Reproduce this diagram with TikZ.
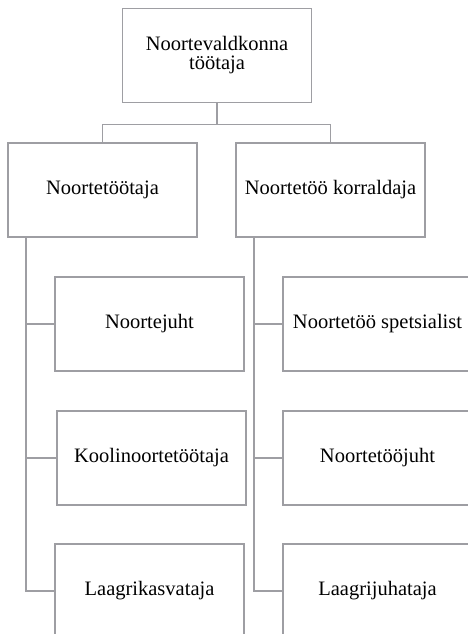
\documentclass[tikz,border=0pt]{standalone}
\usepackage{fontspec}
\setmainfont{Liberation Serif}
\usetikzlibrary{positioning}
\definecolor{boxgray}{RGB}{158,158,163}
\begin{document}
\begin{tikzpicture}[x=1pt,y=1pt,
        role/.style={draw=boxgray, line width=1.9pt, minimum width=189pt, minimum height=94pt,
            align=center, inner sep=0pt, font=\fontsize{20.5}{19}\selectfont},
        link/.style={draw=boxgray, line width=1.9pt}]
    \useasboundingbox (0,0) rectangle (468,-634);
    \clip (0,0) rectangle (468,-634);
    % Top level
    \node[role] (top) at (217,-55.5) {Noortevaldkonna\\töötaja};
    \node[role] (worker) at (102.5,-190) {Noortetöötaja};
    \node[role] (organiser) at (330.5,-190) {Noortetöö korraldaja};
    % Left column
    \node[role] (leader) at (149.5,-324) {Noortejuht};
    \node[role] (school) at (151.5,-458) {Koolinoortetöötaja};
    \node[role] (camp) at (149.5,-591) {Laagrikasvataja};
    % Right column
    \node[role] (expert) at (377.5,-324) {Noortetöö spetsialist};
    \node[role] (manager) at (377.5,-458) {Noortetööjuht};
    \node[role] (campboss) at (377.5,-591) {Laagrijuhataja};
    % Connectors
    \coordinate (bus) at ([yshift=-21pt]top.south);
    \draw[link] (top.south) -- (bus) -| (worker.north);
    \draw[link] (bus) -| (organiser.north);
    \foreach \c in {leader,school,camp}
        \draw[link] ([xshift=19pt]worker.south west) |- (\c.west);
    \foreach \c in {expert,manager,campboss}
        \draw[link] ([xshift=19pt]organiser.south west) |- (\c.west);
\end{tikzpicture}
\end{document}
